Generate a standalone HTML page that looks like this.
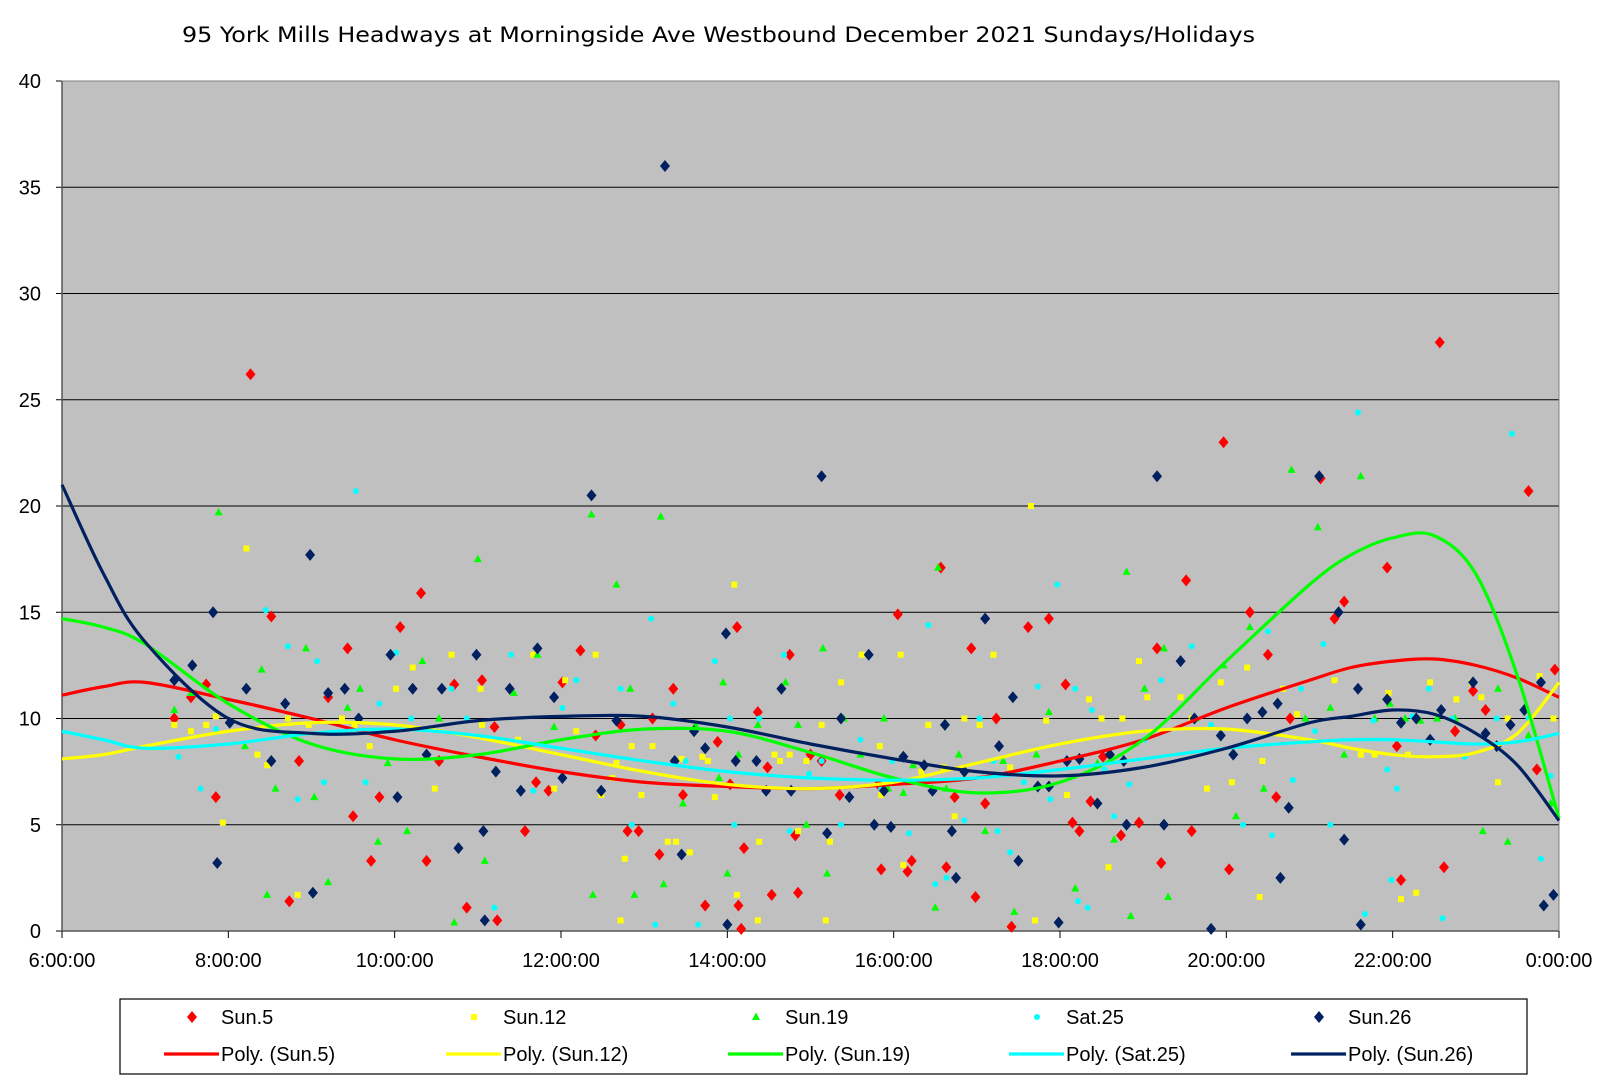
<!DOCTYPE html>
<html><head><meta charset="utf-8"><style>
html,body{margin:0;padding:0;background:#fff;}
svg{display:block;font-family:"Liberation Sans",Arial,sans-serif;}
</style></head><body>
<svg id="chart" width="1608" height="1085" viewBox="0 0 1608 1085" xmlns="http://www.w3.org/2000/svg">
<text x="182" y="42" font-size="21" font-family="DejaVu Sans, sans-serif" textLength="1073" lengthAdjust="spacingAndGlyphs">95 York Mills Headways at Morningside Ave Westbound December 2021  Sundays/Holidays</text>
<rect x="62" y="81" width="1497" height="850" fill="#c0c0c0"/>
<g id="grid"></g><g id="axes"></g><g id="trends"></g><g id="points"></g>
<rect x="120" y="999" width="1407" height="75" fill="#fff" stroke="#000" stroke-width="1.2"/>
<g id="legend"></g>
</svg>
<script>
// minutes after 6:00 and headway values (minutes)
const sun5Min=[81,93,104,111,136,151,164,171,192,206,210,223,229,244,259,263,272,283,292,303,314,312,334,342,351,361,374,385,403,408,416,426,431,441,448,464,473,482,487,488,490,492,502,509,512,525,529,531,540,548,561,589,591,603,610,613,634,638,644,656,659,666,674,685,697,712,724,729,734,742,751,764,777,790,793,811,815,838,842,857,870,876,886,908,918,925,956,963,966,994,997,1005,1018,1027,1058,1064,1077];
const sun5Val=[10.0,11.0,11.6,6.3,26.2,14.8,1.4,8.0,11.0,13.3,5.4,3.3,6.3,14.3,15.9,3.3,8.0,11.6,1.1,11.8,0.5,9.6,4.7,7.0,6.6,11.7,13.2,9.2,9.7,4.7,4.7,10.0,3.6,11.4,6.4,1.2,8.9,6.9,14.3,1.2,0.1,3.9,10.3,7.7,1.7,13.0,4.5,1.8,8.3,8.0,6.4,6.9,2.9,14.9,2.8,3.3,17.1,3.0,6.3,13.3,1.6,6.0,10.0,0.2,14.3,14.7,11.6,5.1,4.7,6.1,8.2,4.5,5.1,13.3,3.2,16.5,4.7,23.0,2.9,15.0,13.0,6.3,10.0,21.3,14.7,15.5,17.1,8.7,2.4,27.7,3.0,9.4,11.3,10.4,20.7,7.6,12.3];
const sun12Min=[81,93,104,111,116,133,141,148,163,170,178,202,211,222,241,253,269,281,302,303,329,340,355,363,371,385,389,397,400,406,403,411,418,426,437,443,447,453,462,466,471,485,487,502,503,514,518,525,531,537,548,551,554,562,577,590,591,605,607,620,625,636,644,651,662,672,684,699,702,710,725,741,750,755,765,777,783,807,815,826,836,844,855,866,864,881,891,918,937,947,957,966,971,977,987,1006,1017,1024,1036,1043,1066,1076];
const sun12Val=[9.7,9.4,9.7,10.1,5.1,18.0,8.3,7.8,10.0,1.7,9.7,10.0,9.7,8.7,11.4,12.4,6.7,13.0,11.4,9.7,9.0,13.0,6.7,11.8,9.4,13.0,6.4,7.2,7.9,3.4,0.5,8.7,6.4,8.7,4.2,4.2,8.1,3.7,8.2,8.0,6.3,16.3,1.7,0.5,4.2,8.3,8.0,8.3,4.7,8.0,9.7,0.5,4.2,11.7,13.0,8.7,6.4,13.0,3.1,7.5,9.7,7.7,5.4,10.0,9.7,13.0,7.7,20.0,0.5,9.9,6.4,10.9,10.0,3.0,10.0,12.7,11.0,11.0,10.0,6.7,11.7,7.0,12.4,8.0,1.6,11.4,10.2,11.8,8.3,8.3,11.2,1.5,8.3,1.8,11.7,10.9,11.7,11.0,7.0,10.0,12.0,10.0];
const sun19Min=[81,93,113,132,144,148,154,176,182,192,206,215,228,235,249,260,272,283,300,305,326,343,355,382,383,400,410,413,432,434,448,457,474,477,480,488,502,522,531,537,549,552,564,576,593,596,607,614,630,632,638,647,666,679,687,703,712,731,747,759,768,771,781,795,798,818,838,847,857,867,887,897,906,915,925,937,947,958,969,980,992,1005,1025,1036,1043,1058,1074];
const sun19Val=[10.4,11.2,19.7,8.7,12.3,1.7,6.7,13.3,6.3,2.3,10.5,11.4,4.2,7.9,4.7,12.7,10.0,0.4,17.5,3.3,11.2,13.0,9.6,19.6,1.7,16.3,11.4,1.7,19.5,2.2,6.0,9.7,7.2,11.7,2.7,8.3,9.7,11.7,9.7,5.0,13.3,2.7,10.0,8.3,10.0,6.7,6.5,7.8,1.1,17.1,6.7,8.3,4.7,8.0,0.9,8.3,10.3,2.0,7.9,4.3,16.9,0.7,11.4,13.3,1.6,10.0,12.5,5.4,14.3,6.7,21.7,10.0,19.0,10.5,8.3,21.4,10.0,10.7,10.0,9.9,10.0,10.0,4.7,11.4,4.2,9.2,6.0];
const sat25Min=[84,100,111,147,163,170,184,189,212,219,229,241,252,281,292,312,324,340,361,371,403,411,425,428,441,450,459,471,482,485,503,521,525,539,548,562,576,591,599,611,625,630,638,651,662,672,675,684,694,704,713,718,731,733,740,743,752,759,770,781,793,815,829,852,870,873,888,894,904,910,915,935,940,946,956,959,963,974,986,996,1003,1012,1035,1046,1058,1067,1074];
const sat25Val=[8.2,6.7,9.5,15.1,13.4,6.2,12.7,7.0,20.7,7.0,10.7,13.1,10.0,11.4,10.0,1.1,13.0,6.6,10.5,11.8,11.4,5.0,14.7,0.3,10.7,8.0,0.3,12.7,10.0,5.0,10.0,13.0,4.7,7.4,8.0,5.0,9.0,6.7,8.0,4.6,14.4,2.2,2.5,5.2,10.0,8.0,4.7,3.7,7.0,11.5,6.2,16.3,11.4,1.4,1.1,10.4,7.6,5.4,6.9,9.0,11.8,13.4,9.7,5.0,14.1,4.5,7.1,11.4,9.4,13.5,5.0,24.4,0.8,9.9,7.6,2.4,6.7,10.1,11.4,0.6,10.0,8.2,10.0,23.4,10.0,3.4,7.3];
const sun26Min=[81,94,109,112,121,133,151,161,179,181,192,204,214,237,242,253,263,274,286,299,304,305,313,323,331,343,355,361,382,389,400,435,442,447,456,464,479,480,486,501,508,519,526,548,552,562,568,582,586,593,598,607,622,628,637,642,645,651,666,676,686,690,704,712,719,725,734,747,756,766,768,790,795,807,817,829,836,845,855,866,877,879,885,907,921,925,935,937,956,966,977,987,995,1018,1027,1035,1045,1055,1067,1069,1076];
const sun26Val=[11.8,12.5,15.0,3.2,9.8,11.4,8.0,10.7,17.7,1.8,11.2,11.4,10.0,13.0,6.3,11.4,8.3,11.4,3.9,13.0,4.7,0.5,7.5,11.4,6.6,13.3,11.0,7.2,20.5,6.6,9.9,36.0,8.0,3.6,9.4,8.6,14.0,0.3,8.0,8.0,6.6,11.4,6.6,21.4,4.6,10.0,6.3,13.0,5.0,6.6,4.9,8.2,7.8,6.6,9.7,4.7,2.5,7.5,14.7,8.7,11.0,3.3,6.8,6.8,0.4,8.0,8.1,6.0,8.3,8.0,5.0,21.4,5.0,12.7,10.0,0.1,9.2,8.3,10.0,10.3,10.7,2.5,5.8,21.4,15.0,4.3,11.4,0.3,10.9,9.8,10.0,9.0,10.4,11.7,9.3,8.7,9.7,10.4,11.7,1.2,1.7];
// trendline readings (hour of day -> value)
const trendHours=[6,6.5,7,8,9,10,11,12,13,14,15,16,17,18,19,20,21,21.5,22,22.5,23,23.5,24];
const polySun5=[11.1,11.5,11.7,10.9,10.0,9.0,8.2,7.5,7.0,6.8,6.7,6.9,7.2,8.0,9.0,10.5,11.8,12.4,12.7,12.8,12.5,11.9,11.0];
const polySun12=[8.1,8.3,8.7,9.4,9.8,9.7,9.1,8.3,7.5,6.9,6.7,7.0,7.9,8.8,9.4,9.5,9.0,8.6,8.3,8.2,8.4,9.3,11.7];
const polySun19=[14.7,14.3,13.5,10.7,8.8,8.1,8.3,9.0,9.5,9.4,8.4,7.2,6.5,7.0,9.0,12.7,16.3,17.7,18.5,18.6,16.8,12.0,5.3];
const polySat25=[9.4,9.0,8.6,8.8,9.3,9.5,9.2,8.6,8.0,7.5,7.2,7.1,7.2,7.6,8.1,8.6,8.9,9.0,9.0,8.9,8.8,8.9,9.3];
const polySun26=[21.0,16.8,13.6,10.0,9.3,9.4,9.9,10.1,10.1,9.6,8.8,8.1,7.5,7.3,7.7,8.6,9.8,10.1,10.4,10.2,9.3,7.8,5.2];
const yTicks=[0,5,10,15,20,25,30,35,40];
const xTickLabels=["6:00:00","8:00:00","10:00:00","12:00:00","14:00:00","16:00:00","18:00:00","20:00:00","22:00:00","0:00:00"];

const NS="http://www.w3.org/2000/svg";
const X0=62,X1=1559,Y0=931,Y1=81;
const xMin=v=>X0+(v/1080)*(X1-X0);
const xHour=h=>xMin((h-6)*60);
const yv=v=>Y0-(v/40)*(Y0-Y1);
function mk(tag,attrs,parent){const e=document.createElementNS(NS,tag);for(const k in attrs)e.setAttribute(k,attrs[k]);parent.appendChild(e);return e;}
const grid=document.getElementById('grid'),axes=document.getElementById('axes');
yTicks.forEach(t=>{
  if(t>0){const l=mk('line',{x1:X0,x2:X1,y1:yv(t),y2:yv(t),stroke:'#000','stroke-width':1},grid);
  
  }
  const tk=mk('line',{x1:X0-6,x2:X0,y1:yv(t),y2:yv(t),stroke:'#000','stroke-width':1},axes);
  
  
  const tx=mk('text',{x:41,y:yv(t)+7,'font-size':20,'text-anchor':'end'},axes);tx.textContent=t;
  
  
});
const yAx=mk('line',{x1:X0,x2:X0,y1:Y1,y2:Y0,stroke:'#000','stroke-width':1.5},axes);


const xAx=mk('line',{x1:X0,x2:X1,y1:Y0,y2:Y0,stroke:'#000','stroke-width':1.5},axes);


mk('rect',{x:X0,y:Y1,width:X1-X0,height:Y0-Y1,fill:'none',stroke:'#808080','stroke-width':1},axes);
xTickLabels.forEach((lab,i)=>{
  const x=xHour(6+2*i);
  const tk=mk('line',{x1:x,x2:x,y1:Y0,y2:Y0+7,stroke:'#000'},axes);
  
  
  const tx=mk('text',{x:x,y:967,'font-size':20,'text-anchor':'middle'},axes);tx.textContent=lab;
  
  
});
function marker(shape,color,x,y,parent){
  if(shape==='diamond')return mk('polygon',{points:`${x},${y-6} ${x+5},${y} ${x},${y+6} ${x-5},${y}`,fill:color},parent);
  if(shape==='square')return mk('rect',{x:x-3,y:y-3,width:6,height:6,fill:color},parent);
  if(shape==='triangle')return mk('polygon',{points:`${x},${y-4.5} ${x+4},${y+3} ${x-4},${y+3}`,fill:color},parent);
  return mk('circle',{cx:x,cy:y,r:3,fill:color},parent);
}
const series=[
 {name:'Sun.5',m:sun5Min,v:sun5Val,poly:polySun5,color:'#ff0000',shape:'diamond'},
 {name:'Sun.12',m:sun12Min,v:sun12Val,poly:polySun12,color:'#ffff00',shape:'square'},
 {name:'Sun.19',m:sun19Min,v:sun19Val,poly:polySun19,color:'#00ff00',shape:'triangle'},
 {name:'Sat.25',m:sat25Min,v:sat25Val,poly:polySat25,color:'#00ffff',shape:'circle'},
 {name:'Sun.26',m:sun26Min,v:sun26Val,poly:polySun26,color:'#002060',shape:'diamond'}
];
const pts=document.getElementById('points'),trends=document.getElementById('trends');
function smoothPath(xs,ys){
  let d=`M${xs[0]},${ys[0]}`;
  for(let i=0;i<xs.length-1;i++){
    const x0=xs[Math.max(i-1,0)],y0=ys[Math.max(i-1,0)],x1=xs[i],y1=ys[i],x2=xs[i+1],y2=ys[i+1],x3=xs[Math.min(i+2,xs.length-1)],y3=ys[Math.min(i+2,xs.length-1)];
    d+=` C${x1+(x2-x0)/6},${y1+(y2-y0)/6} ${x2-(x3-x1)/6},${y2-(y3-y1)/6} ${x2},${y2}`;
  }
  return d;
}
series.forEach(s=>{
  const g=mk('g',{},pts);
  
  
  s.m.forEach((m,i)=>{
    const p=marker(s.shape,s.color,xMin(m),yv(s.v[i]),g);
    
    
  });
});
series.forEach(s=>{
  const path=mk('path',{d:smoothPath(trendHours.map(xHour),s.poly.map(yv)),fill:'none',stroke:s.color,'stroke-width':3.2},trends);
  
  
});
document.getElementById('chart').insertBefore(pts,trends);
const leg=document.getElementById('legend');
const legX=[192,474,756,1037,1319];
series.forEach((s,i)=>{
  const m=marker(s.shape,s.color,legX[i],1017,leg);
  
  
  const t=mk('text',{x:legX[i]+29,y:1024,'font-size':20},leg);t.textContent=s.name;
  
  
  const l=mk('line',{x1:legX[i]-28,x2:legX[i]+27,y1:1054,y2:1054,stroke:s.color,'stroke-width':3.2},leg);
  
  
  const t2=mk('text',{x:legX[i]+29,y:1061,'font-size':20},leg);t2.textContent='Poly. ('+s.name+')';
  
  
});
</script>
</body></html>
